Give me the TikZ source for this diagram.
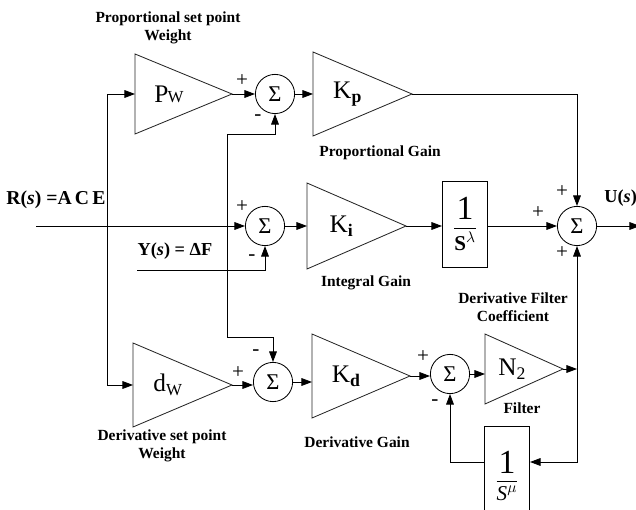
\documentclass[tikz,border=0pt]{standalone}
\usepackage{fontspec}
\setmainfont{Liberation Serif}
\usepackage{amsmath}
\usetikzlibrary{calc,arrows.meta}

% gain triangle: name, left x, centre y, half height, tip x, text
\newcommand{\gainblock}[6]{%
    \draw[gainline] (#2,#3-#4) -- (#5,#3) -- (#2,#3+#4) -- cycle;
    \coordinate (#1-in) at (#2,#3);
    \coordinate (#1-out) at (#5,#3);
    \node[gaintext] (#1) at ({#2+0.35*(#5-#2)},#3) {#6};
}

\begin{document}
\begin{tikzpicture}[
    x=0.025cm, y=-0.025cm, line width=0.6pt,
    >={Triangle[length=7.5pt,width=5.5pt]},
    sumnode/.style={draw, circle, minimum size=0.98cm, inner sep=0pt, font=\fontsize{16}{16}\selectfont},
    tfbox/.style={draw, minimum width=1.13cm, minimum height=2.15cm, inner sep=0pt},
    lbl/.style={font=\bfseries\fontsize{11}{12.8}\selectfont, align=center, inner sep=0pt},
    sgn/.style={font=\fontsize{15}{15}\selectfont, inner sep=0pt},
    gaintext/.style={font=\fontsize{18}{18}\selectfont, inner sep=0pt},
    gainline/.style={draw=black!85}
]
\useasboundingbox (0,0) rectangle (636,510);

% ========== gains ==========
\gainblock{pw}{135}{94}{40}{232}{P\kern-0.5pt{\fontsize{12}{12}\selectfont W}}
\gainblock{kp}{313}{94}{42}{412}{K\textsubscript{\textbf{p}}}
\gainblock{ki}{307}{226}{43}{406}{K\textsubscript{\textbf{i}}}
\gainblock{dw}{133}{385}{42}{232}{d\raisebox{-3pt}{\fontsize{12}{12}\selectfont W}}
\gainblock{kd}{312}{376}{42}{410}{K\textsubscript{\textbf{d}}}
\gainblock{nf}{485}{369}{35}{563}{N\textsubscript{2}}

% ========== summing points and blocks ==========
\node[sumnode] (s1) at (275,94) {Σ};
\node[sumnode] (s2) at (265,226) {Σ};
\node[sumnode] (s3) at (273,382) {Σ};
\node[sumnode] (s5) at (450,374) {Σ};
\node[sumnode] (s4) at (577,226) {Σ};

\node[tfbox] (il) at (465,224) {\fontsize{15}{15}\selectfont $\dfrac{\text{\fontsize{24}{24}\selectfont 1}}{\text{\bfseries S}^{\lambda}}$};
\node[tfbox, minimum height=2.5cm] (df) at (507,476) {\fontsize{15}{15}\selectfont $\dfrac{\text{\fontsize{24}{24}\selectfont 1}}{\text{\itshape S}^{\mu}}$};

\coordinate (rin) at (36,226);
\coordinate (rbr) at (107,226);
\coordinate (yin) at (137,270);
\coordinate (ybr) at (227,270);
\coordinate (uout) at (640,226);
\coordinate (nj) at (577,369);
\coordinate (fbk) at (577,462);

% ========== connectors ==========
\draw (rin) -- (rbr);
\draw[->] (rbr) -- (s2.west);
\draw[->] (rbr) |- (pw-in);
\draw[->] (rbr) |- (dw-in);
\draw[->] (pw-out) -- (s1.west);
\draw[->] (s1.east) -- (kp-in);
\draw[->] (yin) -| (s2.south);
\draw[->] (ybr) |- ($(s1.south)+(0,20)$) -- (s1.south);
\draw[->] (ybr) |- ($(s3.north)+(0,-25)$) -- (s3.north);
\draw[->] (s2.east) -- (ki-in);
\draw[->] (ki-out) -- (il.west |- ki-out);
\draw[->] (il.east |- s4.west) -- (s4.west);
\draw[->] (s4.east) -- (uout);
\draw[->] (kp-out) -| (s4.north);
\draw[->] (dw-out) -- (s3.west |- dw-out);
\draw[->] (s3.east) -- (kd-in |- s3.east);
\draw[->] (kd-out) -- (s5.west |- kd-out);
\draw[->] (s5.east) -- (nf-in |- s5.east);
\draw[->] (nf-out) -- (nj);
\draw[->] (nj) -- (s4.south);
\draw[->] (nj) -- (fbk) -- (df.east |- fbk);
\draw[->] (df.west |- fbk) -| (s5.south);

% ========== signs ==========
\node[sgn] (s1p) at (242,81) {+};
\node[sgn] (s1m) at (258,118) {-};
\node[sgn] (s2p) at (242,207) {+};
\node[sgn] (s2m) at (252,258) {-};
\node[sgn] (s3p) at (238,373) {+};
\node[sgn] (s3m) at (256,353) {-};
\node[sgn] (s5p) at (423,357) {+};
\node[sgn] (s5m) at (435,403) {-};
\node[sgn] (s4a) at (562,192) {+};
\node[sgn] (s4b) at (538,213) {+};
\node[sgn] (s4c) at (562,253) {+};

% ========== labels ==========
\node[lbl] (pswlbl) at (168,28) {Proportional set point\\Weight};
\node[lbl] (pglbl) at (380,153) {Proportional Gain};
\node[lbl, font=\bfseries\fontsize{14}{14}\selectfont] (rlbl) at (56,200) {R(\textit{s}) =A\,C\,E};
\node[lbl, font=\bfseries\fontsize{13}{13}\selectfont] (ylbl) at (175,251) {Y(\textit{s}) = ΔF};
\node[lbl] (iglbl) at (366,283) {Integral Gain};
\node[lbl] (dfclbl) at (513,307) {Derivative Filter\\Coefficient};
\node[lbl, font=\bfseries\fontsize{13}{13}\selectfont, anchor=west] (ulbl) at (604,198) {U(\textit{s})};
\node[lbl] (flbl) at (522,408) {Filter};
\node[lbl] (dglbl) at (357,442) {Derivative Gain};
\node[lbl] (dswlbl) at (162,446) {Derivative set point\\Weight};

\end{tikzpicture}
\end{document}
